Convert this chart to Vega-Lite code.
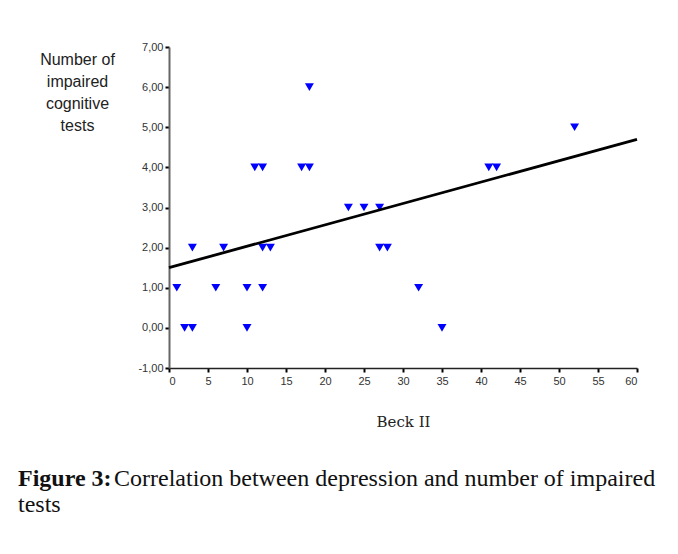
{
  "$schema": "https://vega.github.io/schema/vega-lite/v6.json",
  "width": 468,
  "height": 321,
  "autosize": {"type": "none"},
  "padding": {"left": 169, "top": 47, "right": 41, "bottom": 186},
  "background": "white",
  "config": {"view": {"stroke": null}},
  "title": {
    "text": "Figure 3:",
    "subtitle": ["\u200b\u00a0\u00a0\u00a0\u00a0\u00a0\u00a0\u00a0\u00a0\u00a0\u00a0\u00a0\u00a0\u00a0\u00a0\u00a0\u00a0Correlation between depression and number of impaired", "tests"],
    "orient": "bottom",
    "anchor": "start",
    "frame": "group",
    "dx": -151,
    "offset": 38,
    "font": "Liberation Serif",
    "fontSize": 24,
    "fontWeight": "bold",
    "color": "#111111",
    "subtitleFont": "Liberation Serif",
    "subtitleFontSize": 24,
    "subtitleFontWeight": "normal",
    "subtitleColor": "#111111",
    "subtitleLineHeight": 26,
    "subtitlePadding": -24
  },
  "encoding": {
    "x": {
      "field": "beck", "type": "quantitative",
      "scale": {"domain": [0, 60], "nice": false, "zero": false},
      "axis": {
        "values": [0, 5, 10, 15, 20, 25, 30, 35, 40, 45, 50, 55, 60],
        "labelOverlap": false,
        "grid": false,
        "labelFont": "Liberation Sans", "labelFontSize": 11, "labelColor": "#333333", "labelPadding": 3,
        "tickColor": "#000000", "tickSize": 4, "tickWidth": 2,
        "domainColor": "#222222", "domainWidth": 1.5,
        "title": "Beck II",
        "titleFont": "DejaVu Serif", "titleFontSize": 15, "titleFontWeight": "normal", "titleColor": "#222222",
        "titleBaseline": "alphabetic", "titleY": 58, "titleX": 234, "titleAlign": "center"
      }
    },
    "y": {
      "field": "tests", "type": "quantitative",
      "scale": {"domain": [-1, 7], "nice": false, "zero": false},
      "axis": {
        "values": [-1, 0, 1, 2, 3, 4, 5, 6, 7],
        "labelExpr": "replace(replace(format(datum.value, '.2f'), '.', ','), '\u2212', '-')",
        "labelOverlap": false,
        "grid": false,
        "labelFont": "Liberation Sans", "labelFontSize": 11, "labelColor": "#333333", "labelPadding": 2,
        "tickColor": "#000000", "tickSize": 4, "tickWidth": 2,
        "domainColor": "#666666", "domainWidth": 2,
        "title": ["Number of", "impaired", "cognitive", "tests"],
        "titleAngle": 0, "titleAlign": "center", "titleX": -92, "titleY": 17, "titleBaseline": "alphabetic",
        "titleFont": "Liberation Sans", "titleFontSize": 16, "titleFontWeight": "normal", "titleColor": "#222222",
        "titleLineHeight": 22
      }
    }
  },
  "layer": [
    {
      "data": {"values": [
        {"beck": 1, "tests": 1},
        {"beck": 2, "tests": 0},
        {"beck": 3, "tests": 0},
        {"beck": 3, "tests": 2},
        {"beck": 6, "tests": 1},
        {"beck": 7, "tests": 2},
        {"beck": 10, "tests": 1},
        {"beck": 10, "tests": 0},
        {"beck": 11, "tests": 4},
        {"beck": 12, "tests": 4},
        {"beck": 12, "tests": 2},
        {"beck": 12, "tests": 1},
        {"beck": 13, "tests": 2},
        {"beck": 17, "tests": 4},
        {"beck": 18, "tests": 4},
        {"beck": 18, "tests": 6},
        {"beck": 23, "tests": 3},
        {"beck": 25, "tests": 3},
        {"beck": 27, "tests": 3},
        {"beck": 27, "tests": 2},
        {"beck": 28, "tests": 2},
        {"beck": 32, "tests": 1},
        {"beck": 35, "tests": 0},
        {"beck": 41, "tests": 4},
        {"beck": 42, "tests": 4},
        {"beck": 52, "tests": 5}
      ]},
      "mark": {"type": "point", "shape": "triangle-down", "filled": true, "color": "#0000ff", "opacity": 1, "size": 80}
    },
    {
      "data": {"values": [
        {"beck": 0, "tests": 1.5},
        {"beck": 60, "tests": 4.7}
      ]},
      "mark": {"type": "line", "color": "#000000", "strokeWidth": 2.8}
    }
  ]
}
